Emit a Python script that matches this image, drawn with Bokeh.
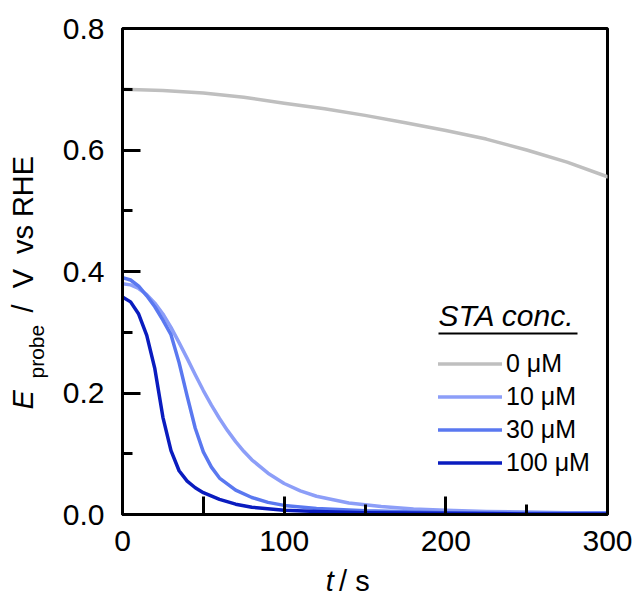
from bokeh.plotting import figure
from bokeh.layouts import row, column
from bokeh.models import Range1d, FixedTicker, Label, Legend, LegendItem, CustomJSTickFormatter
from bokeh.core.properties import value
from bokeh.embed import file_html
from bokeh.resources import INLINE
import math

FONT = "Liberation Sans"

# ---- data ----
t_0uM = [0, 25, 50, 75, 100, 125, 150, 175, 200, 225, 250, 275, 300]
E_0uM = [0.700, 0.698, 0.694, 0.687, 0.677, 0.668, 0.657, 0.645, 0.632, 0.618, 0.600, 0.580, 0.556]

t_10uM = [0, 5, 10, 15, 20, 25, 30, 35, 40, 45, 50, 55, 60, 65, 70, 75, 80, 90, 100, 110, 120, 140, 160, 180, 200, 225, 250, 275, 300]
E_10uM = [0.380, 0.378, 0.372, 0.362, 0.348, 0.330, 0.308, 0.283, 0.257, 0.230, 0.204, 0.180, 0.158, 0.138, 0.120, 0.104, 0.090, 0.068, 0.051, 0.039, 0.030, 0.019, 0.013, 0.009, 0.007, 0.005, 0.004, 0.003, 0.003]

t_30uM = [0, 5, 10, 15, 20, 25, 30, 35, 40, 45, 50, 55, 60, 70, 80, 90, 100, 120, 150, 200, 250, 300]
E_30uM = [0.390, 0.386, 0.376, 0.360, 0.342, 0.320, 0.296, 0.250, 0.195, 0.142, 0.103, 0.078, 0.060, 0.040, 0.028, 0.020, 0.015, 0.010, 0.006, 0.003, 0.002, 0.002]

t_100uM = [0, 5, 10, 15, 20, 25, 30, 35, 40, 45, 50, 60, 70, 80, 100, 120, 150, 200, 250, 300]
E_100uM = [0.358, 0.350, 0.330, 0.295, 0.240, 0.160, 0.105, 0.072, 0.055, 0.044, 0.036, 0.025, 0.017, 0.012, 0.007, 0.005, 0.003, 0.002, 0.001, 0.001]

series_labels = ["0 μM", "10 μM", "30 μM", "100 μM"]
series_colors = ["#bfbfbf", "#8c9ef8", "#5a78f0", "#0a1cbf"]
legend_title = "STA conc."

x_major = [0, 50, 100, 200, 300]
x_minor = [150, 250]
y_major = [0.0, 0.2, 0.4, 0.6, 0.8]
y_minor = [0.1, 0.3, 0.5, 0.7]

# ---- layout geometry (page pixels) ----
W, H = 634, 598
LEFT_W = 54          # y-label strip
MAIN_H = 565         # main figure height
FRAME_L, FRAME_T, FRAME_W, FRAME_H = 122, 28, 485, 486

def shift(fs):
    # correction between requested baseline and rendered glyph position
    return 0.4 * fs

# ---- main figure ----
p = figure(width=W - LEFT_W, height=MAIN_H,
           min_border_left=FRAME_L - LEFT_W, min_border_right=W - FRAME_L - FRAME_W,
           min_border_top=FRAME_T, min_border_bottom=MAIN_H - FRAME_T - FRAME_H,
           x_range=Range1d(0, 300), y_range=Range1d(0, 0.8),
           output_backend="svg", toolbar_location=None)
p.grid.visible = False
p.outline_line_color = "black"
p.outline_line_width = 3
p.background_fill_color = "white"
p.border_fill_color = "white"

p.xaxis.ticker = FixedTicker(ticks=x_major, minor_ticks=x_minor)
p.xaxis.formatter = CustomJSTickFormatter(code="return [0,100,200,300].includes(tick) ? tick.toFixed(0) : '';")
p.yaxis.ticker = FixedTicker(ticks=y_major, minor_ticks=y_minor)
p.yaxis.formatter = CustomJSTickFormatter(code="return tick.toFixed(1);")

for ax in (p.xaxis, p.yaxis):
    ax.axis_line_width = 3
    ax.axis_line_color = "black"
    ax.major_tick_in = 18
    ax.major_tick_out = 0
    ax.minor_tick_in = 10
    ax.minor_tick_out = 0
    ax.major_tick_line_width = 3
    ax.minor_tick_line_width = 3
    ax.major_label_text_font = FONT
    ax.major_label_text_font_size = "30px"
    ax.major_label_text_color = "black"
    ax.axis_label = None
p.yaxis.major_label_standoff = 18
p.xaxis.major_label_standoff = 16

ts = [t_0uM, t_10uM, t_30uM, t_100uM]
Es = [E_0uM, E_10uM, E_30uM, E_100uM]
renderers = []
for t, E, c in zip(ts, Es, series_colors):
    r = p.line(t, E, line_color=c, line_width=3.5, line_join="round", line_cap="round")
    renderers.append(r)

legend = Legend(items=[LegendItem(label=lab, renderers=[r]) for lab, r in zip(series_labels, renderers)],
                location=(316, 35), orientation="vertical")
legend.padding = 0
legend.margin = 0
legend.spacing = 0
legend.glyph_width = 64
legend.glyph_height = 33
legend.label_height = 33
legend.label_standoff = 4
legend.label_text_font = FONT
legend.label_text_font_size = "25px"
legend.label_text_color = "black"
legend.label_text_baseline = "middle"
legend.border_line_color = None
legend.background_fill_alpha = 0
p.add_layout(legend, "center")

def px_to_t(px):
    return (px - FRAME_L) / FRAME_W * 300

def py_to_E(py):
    return (FRAME_T + FRAME_H - py) / FRAME_H * 0.8

# legend title (italic, underlined)
p.add_layout(Label(x=px_to_t(438), y=py_to_E(327 - shift(30)), text=legend_title,
                   text_font=FONT, text_font_size="30px", text_font_style="italic",
                   text_baseline="alphabetic", text_align="left", text_color="black"))
p.segment(x0=[px_to_t(438)], y0=[py_to_E(333)], x1=[px_to_t(577)], y1=[py_to_E(333)],
          line_color="black", line_width=2)

# ---- y-axis title strip: "E_probe / V vs RHE" (rotated) ----
yl = figure(width=LEFT_W, height=H, x_range=Range1d(0, LEFT_W), y_range=Range1d(0, H),
            min_border_left=0, min_border_right=0, min_border_top=0, min_border_bottom=0,
            x_axis_location=None, y_axis_location=None, output_backend="svg", toolbar_location=None)
yl.grid.visible = False
yl.outline_line_color = None
yl.border_fill_color = "white"

ROT = math.pi / 2
base_x = 34
yl.text(x=[base_x - shift(29)], y=[H - 409], text=["E"], angle=ROT, text_font=value(FONT), text_font_size="29px",
        text_font_style="italic", text_baseline="alphabetic", text_align="left", text_color="black")
yl.text(x=[base_x + 10 - shift(21)], y=[H - 378], text=["probe"], angle=ROT, text_font=value(FONT),
        text_font_size="21px", text_baseline="alphabetic", text_align="left", text_color="black")
pieces = ["/", "V", "vs", "RHE"]
centers = [308, 278, 239, 186]
yl.text(x=[base_x - shift(29)] * len(pieces), y=[H - c for c in centers], text=pieces, angle=ROT,
        text_font=value(FONT), text_font_size="29px",
        text_baseline="alphabetic", text_align="center", text_color="black")

# ---- x-axis title strip: "t / s" ----
XL_H = H - MAIN_H
xl = figure(width=W - LEFT_W, height=XL_H, x_range=Range1d(0, W - LEFT_W), y_range=Range1d(0, XL_H),
            min_border_left=0, min_border_right=0, min_border_top=0, min_border_bottom=0,
            x_axis_location=None, y_axis_location=None, output_backend="svg", toolbar_location=None)
xl.grid.visible = False
xl.outline_line_color = None
xl.border_fill_color = "white"
XL_BASE = 592
XL_DX = -24   # observed horizontal offset of this strip's text
xl.text(x=[321 - LEFT_W + XL_DX], y=[H - XL_BASE + shift(29)], text=["t"], text_font=value(FONT),
        text_font_size="29px", text_font_style="italic", text_baseline="alphabetic", text_align="left",
        text_color="black")
xl.text(x=[337 - LEFT_W + XL_DX], y=[H - XL_BASE + shift(29)], text=["/ s"], text_font=value(FONT),
        text_font_size="29px", text_baseline="alphabetic", text_align="left", text_color="black")

layout = row(yl, column(p, xl, spacing=0), spacing=0)
open("out.html", "w").write(file_html(layout, INLINE))
